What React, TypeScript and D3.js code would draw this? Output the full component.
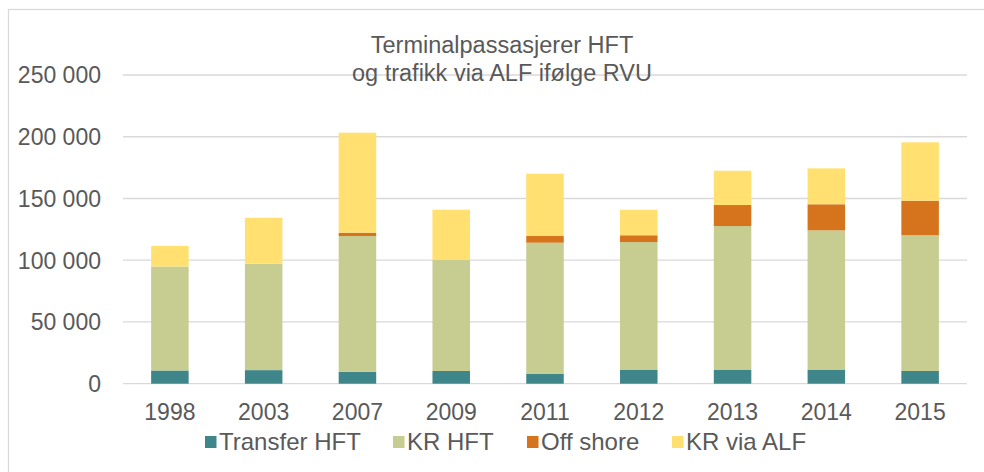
import * as d3 from "d3";

const years = ["1998", "2003", "2007", "2009", "2011", "2012", "2013", "2014", "2015"];
const transferHFT = [10700, 11000, 9700, 10300, 7900, 11100, 11100, 11100, 10300];
const krHFT = [84200, 86200, 109900, 89900, 106300, 103600, 116600, 113100, 109900];
const offShore = [0, 0, 2700, 0, 5400, 5500, 17000, 21100, 28000];
const krViaALF = [16700, 37200, 81000, 40700, 50500, 20700, 27800, 29100, 47300];

const seriesNames = ["Transfer HFT", "KR HFT", "Off shore", "KR via ALF"];
const seriesColors = ["#3F868B", "#C7CC90", "#D5741C", "#FFE070"];
const yTicks = [0, 50000, 100000, 150000, 200000, 250000];

const width = 984;
const height = 472;
const font = '"Liberation Sans", Arial, sans-serif';
const textColor = "#595959";

export default function App() {
    const rows = years.map((y, i) => ({
        year: y,
        "Transfer HFT": transferHFT[i],
        "KR HFT": krHFT[i],
        "Off shore": offShore[i],
        "KR via ALF": krViaALF[i],
    }));

    const stack = d3.stack<any>().keys(seriesNames);
    const layers = stack(rows);

    const x = d3.scaleBand<string>()
        .domain(years)
        .range([123, 967])
        .paddingInner(0.6)
        .paddingOuter(0.3);

    const y = d3.scaleLinear()
        .domain([0, 250000])
        .range([383.7, 75]);

    const fmt = (v: number) => d3.format(",")(v).replace(/,/g, " ");

    // legend item start positions (square left edge)
    const legendX = [205, 393, 527, 672];

    return (
        <svg width={width} height={height} style={{position: "absolute", left: 0, top: 0}} fontFamily={font}>
            <rect x={0} y={0} width={width} height={height} fill="white" />
            <rect x={8.5} y={9.5} width={1000} height={500} fill="none" stroke="#D9D9D9" strokeWidth={1.25} />

            {/* grid */}
            <g>
                {yTicks.map(t => (
                    <line key={t} x1={123} x2={967} y1={y(t)} y2={y(t)} stroke="#D9D9D9" strokeWidth={1.3} />
                ))}
            </g>

            {/* y labels */}
            <g fill={textColor} fontSize={23} textAnchor="end">
                {yTicks.map(t => (
                    <text key={t} x={101} y={y(t)} dy="0.36em">{fmt(t)}</text>
                ))}
            </g>

            {/* bars */}
            {layers.map((layer, li) => (
                <g key={layer.key} fill={seriesColors[li]}>
                    {layer.map((d, i) => (
                        <rect key={i}
                              x={x(years[i])}
                              y={y(d[1])}
                              width={x.bandwidth()}
                              height={Math.max(0, y(d[0]) - y(d[1]))} />
                    ))}
                </g>
            ))}

            {/* x labels */}
            <g fill={textColor} fontSize={23} textAnchor="middle">
                {years.map(yr => (
                    <text key={yr} x={(x(yr) ?? 0) + x.bandwidth() / 2} y={420}>{yr}</text>
                ))}
            </g>

            {/* title */}
            <g fill={textColor} fontSize={23.5} textAnchor="middle">
                <text x={502} y={53}>Terminalpassasjerer HFT</text>
                <text x={502} y={81}>og trafikk via ALF ifølge RVU</text>
            </g>

            {/* legend */}
            <g fontSize={24}>
                {seriesNames.map((s, i) => (
                    <g key={s} transform={`translate(${legendX[i]},0)`}>
                        <rect x={0} y={436} width={11.5} height={12} fill={seriesColors[i]} />
                        <text x={14} y={449.5} fill={textColor}>{s}</text>
                    </g>
                ))}
            </g>
        </svg>
    );
}
